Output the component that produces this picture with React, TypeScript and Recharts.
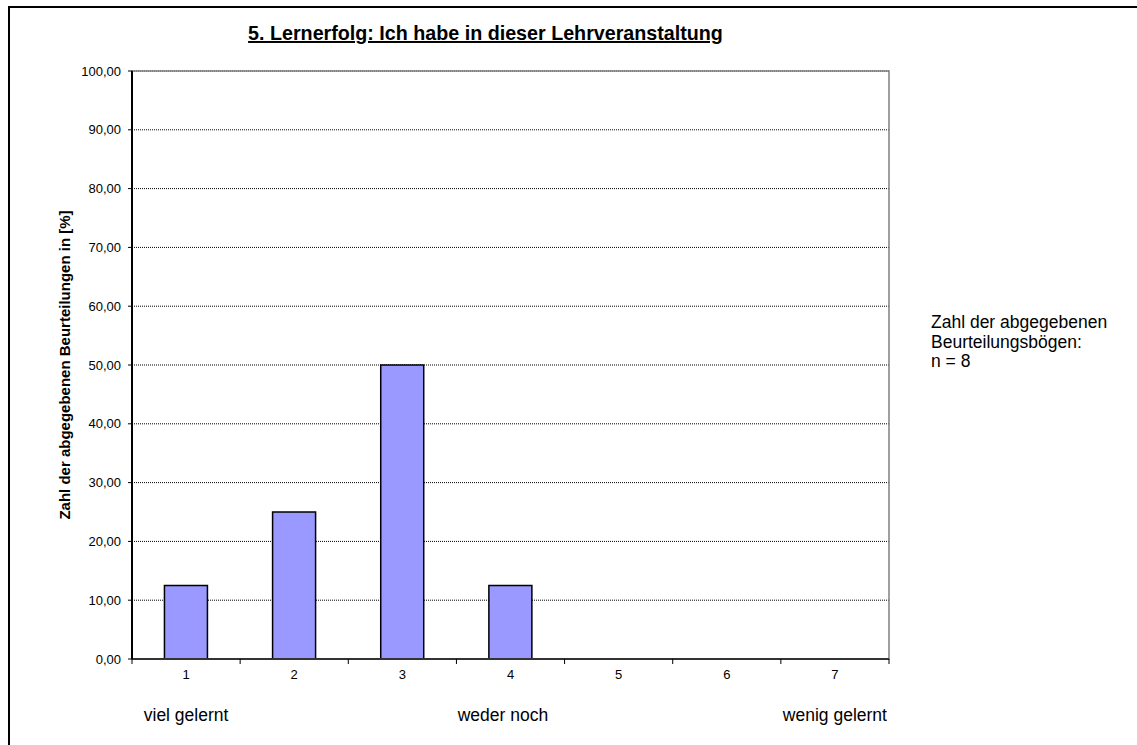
import React from "react";
import { BarChart, Bar, XAxis, YAxis, CartesianGrid, ReferenceArea } from "recharts";

const categories = ["1", "2", "3", "4", "5", "6", "7"];
const percentages = [12.5, 25, 50, 12.5, 0, 0, 0];
const yTicks = [0, 10, 20, 30, 40, 50, 60, 70, 80, 90, 100];
const title = "5. Lernerfolg: Ich habe in dieser Lehrveranstaltung";
const yLabel = "Zahl der abgegebenen Beurteilungen in [%]";
const scaleLabels = [
  { text: "viel gelernt", category: 1 },
  { text: "weder noch", category: 3.93 },
  { text: "wenig gelernt", category: 7 },
];
const noteLines = ["Zahl der abgegebenen", "Beurteilungsbögen:", "n = 8"];

const data = categories.map((c, i) => ({ name: c, value: percentages[i] }));

const W = 1137;
const H = 745;
const PLOT_LEFT = 132;
const PLOT_RIGHT = 889;
const PLOT_TOP = 71;
const PLOT_BOTTOM = 659;
const BAND = (PLOT_RIGHT - PLOT_LEFT) / categories.length;
const FONT = '"Liberation Sans", Arial, sans-serif';

const fmt = (v: number) => v.toFixed(2).replace(".", ",");

const XTick = (props: any) => {
  const { x, y, payload, index } = props;
  const half = payload && typeof payload.offset === "number" && payload.offset > 0 ? payload.offset : BAND / 2;
  return (
    <g>
      {index === 0 && <line x1={x - half} y1={y} x2={x - half} y2={y + 5} stroke="#000" strokeWidth={1} />}
      <line x1={x + half} y1={y} x2={x + half} y2={y + 5} stroke="#000" strokeWidth={1} />
      <text x={x} y={y + 20} textAnchor="middle" fontSize={13} fill="#000" fontFamily={FONT}>
        {payload.value}
      </text>
    </g>
  );
};

export default function App() {
  return (
    <div style={{ position: "absolute", left: 0, top: 0, width: W, height: H, background: "#fff", fontFamily: FONT }}>
      <div
        style={{
          position: "absolute",
          left: 8,
          top: 6,
          width: W - 8,
          height: H - 6,
          borderTop: "2px solid #000",
          borderLeft: "2px solid #000",
          boxSizing: "border-box",
        }}
      />
      <div style={{ position: "absolute", left: 0, top: 0 }}>
        <BarChart
          width={W}
          height={H}
          data={data}
          margin={{ top: PLOT_TOP, right: W - PLOT_RIGHT, bottom: H - PLOT_BOTTOM - 30, left: 0 }}
          barCategoryGap="30%"
        >
          <CartesianGrid vertical={false} stroke="#000" strokeDasharray="1 1" />
          <ReferenceArea y1={0} y2={100} fill="none" stroke="#808080" strokeWidth={1.5} ifOverflow="visible" />
          <XAxis
            dataKey="name"
            height={30}
            axisLine={{ stroke: "#333", strokeWidth: 2 }}
            tickLine={false}
            tickSize={0}
            tickMargin={0}
            tick={<XTick />}
            interval={0}
          />
          <YAxis
            width={PLOT_LEFT}
            domain={[0, 100]}
            ticks={yTicks}
            tickFormatter={fmt}
            axisLine={{ stroke: "#000", strokeWidth: 2 }}
            tickLine={{ stroke: "#000" }}
            tickSize={4}
            tickMargin={7}
            tick={{ fill: "#000", fontSize: 13, fontFamily: FONT }}
            interval={0}
          />
          <Bar dataKey="value" fill="#9999FF" stroke="#000" strokeWidth={1.5} isAnimationActive={false} />
        </BarChart>
      </div>
      <svg width={W} height={H} style={{ position: "absolute", left: 0, top: 0, pointerEvents: "none" }}>
        <text
          x={485.5}
          y={40}
          textAnchor="middle"
          fontSize={19.7}
          fontWeight="bold"
          fontFamily={FONT}
          textDecoration="underline"
          style={{ textDecoration: "underline" }}
        >
          {title}
        </text>
        <text
          x={64}
          y={365}
          transform="rotate(-90, 64, 365)"
          textAnchor="middle"
          dominantBaseline="central"
          fontSize={15}
          fontWeight="bold"
          fontFamily={FONT}
        >
          {yLabel}
        </text>
        {scaleLabels.map((s) => (
          <text
            key={s.text}
            x={PLOT_LEFT + (s.category - 0.5) * BAND}
            y={721}
            textAnchor="middle"
            fontSize={17.5}
            fontFamily={FONT}
          >
            {s.text}
          </text>
        ))}
        {noteLines.map((l, i) => (
          <text key={l} x={931} y={328 + i * 19.5} fontSize={17.5} fontFamily={FONT}>
            {l}
          </text>
        ))}
      </svg>
    </div>
  );
}
